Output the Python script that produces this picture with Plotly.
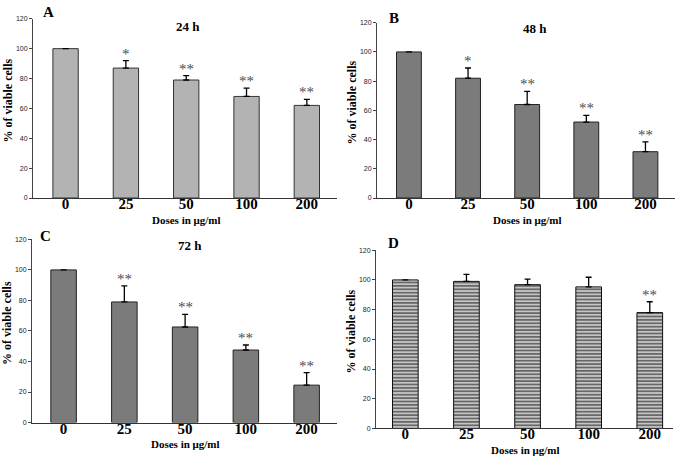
import plotly.graph_objects as go

doses = ["0", "25", "50", "100", "200"]

viab_24h = [100, 87, 79, 68, 62]
err_24h = [None, 5, 3, 5.5, 4]
sig_24h = ["", "*", "**", "**", "**"]

viab_48h = [100, 82, 64, 52, 31.7]
err_48h = [None, 7, 9, 4.5, 6.7]
sig_48h = ["", "*", "**", "**", "**"]

viab_72h = [100, 79, 62.6, 47.5, 24.5]
err_72h = [None, 10.5, 8.2, 3.3, 8.2]
sig_72h = ["", "**", "**", "**", "**"]

viab_d = [100, 99, 96.8, 95.3, 78]
err_d = [None, 4.7, 3.7, 6.5, 7.3]
sig_d = ["", "", "", "", "**"]

yticks = [0, 20, 40, 60, 80, 100, 120]

W, H = 685, 460
panels = [
    dict(v=viab_24h, e=err_24h, s=sig_24h, title="24 h", letter="A",
         xd=(33, 337), yd=(197, 15), xr=[-0.54, 4.5], style="light",
         tpos=(188, 23), lpos=(49, 8)),
    dict(v=viab_48h, e=err_48h, s=sig_48h, title="48 h", letter="B",
         xd=(377, 675), yd=(197, 19), xr=[-0.54, 4.5], style="dark",
         tpos=(535, 25), lpos=(394, 14)),
    dict(v=viab_72h, e=err_72h, s=sig_72h, title="72 h", letter="C",
         xd=(32, 337), yd=(425, 239), xr=[-0.52, 4.5], style="dark",
         tpos=(190, 245), lpos=(45, 236)),
    dict(v=viab_d, e=err_d, s=sig_d, title="", letter="D",
         xd=(376, 673), yd=(431, 250), xr=[-0.48, 4.38], style="stripe",
         tpos=None, lpos=(393, 243)),
]

fig = go.Figure()
serif = "Liberation Serif, Times New Roman, serif"
sans = "Liberation Sans, Arial, sans-serif"
annotations = []
layout = {}

for i, p in enumerate(panels):
    n = "" if i == 0 else str(i + 1)
    xa, ya = "x" + n, "y" + n
    if p["style"] == "light":
        marker = dict(color="#b3b3b3", line=dict(color="#333333", width=1))
    elif p["style"] == "dark":
        marker = dict(color="#7b7b7b", line=dict(color="#222222", width=1))
    else:
        marker = dict(color="#d2d2d2", line=dict(color="#111111", width=1),
                      pattern=dict(shape="-", fgcolor="#000000", bgcolor="#d0d0d0",
                                   size=3.4, solidity=0.55, fillmode="overlay"))
    idx = list(range(len(doses)))
    fig.add_trace(go.Bar(
        x=idx, y=p["v"], xaxis=xa, yaxis=ya, width=0.42, marker=marker,
        showlegend=False, hoverinfo="skip",
        error_y=dict(type="data", symmetric=False, array=p["e"],
                     arrayminus=[0] * len(doses), color="#000000",
                     thickness=1.3, width=3),
    ))
    x0, x1 = p["xd"]
    yb, yt = p["yd"]
    layout["xaxis" + n] = dict(
        domain=[x0 / W, x1 / W], anchor=ya, range=p["xr"],
        tickvals=idx, ticktext=doses,
        showline=True, linecolor="#333333", linewidth=1, ticks="",
        ticklabelstandoff=-8,
        tickfont=dict(family=serif, size=15, color="#000000", weight="bold"),
        showgrid=False, zeroline=False, fixedrange=True,
    )
    layout["yaxis" + n] = dict(
        domain=[(H - yb) / H, (H - yt) / H], anchor=xa, range=[0, 120],
        tickvals=yticks, showline=True, linecolor="#444444", linewidth=1,
        ticks="outside", ticklen=3, tickcolor="#444444",
        tickfont=dict(family=sans, size=7, color="#222222"),
        showgrid=False, zeroline=False, fixedrange=True,
    )
    annotations.append(dict(
        text="<b>Doses in μg/ml</b>", xref="paper", yref="paper",
        x=((x0 + x1) / 2 + 1) / W, y=(H - yb - 22) / H, showarrow=False,
        xanchor="center", yanchor="middle",
        font=dict(family=serif, size=11, color="#000000"),
    ))
    annotations.append(dict(
        text="<b>% of viable cells</b>", xref="paper", yref="paper",
        x=(x0 - 25) / W, y=(H - (yb + yt) / 2 + 8) / H, showarrow=False,
        textangle=-90, xanchor="center", yanchor="middle",
        font=dict(family=serif, size=12, color="#000000"),
    ))
    if p["title"]:
        annotations.append(dict(
            text="<b>" + p["title"] + "</b>", xref="paper", yref="paper",
            x=p["tpos"][0] / W, y=(H - p["tpos"][1]) / H, showarrow=False,
            xanchor="center", yanchor="middle",
            font=dict(family=serif, size=13, color="#000000"),
        ))
    annotations.append(dict(
        text="<b>" + p["letter"] + "</b>", xref="paper", yref="paper",
        x=p["lpos"][0] / W, y=(H - p["lpos"][1]) / H, showarrow=False,
        xanchor="center", yanchor="middle",
        font=dict(family=serif, size=15, color="#000000"),
    ))
    for j, (v, e, s) in enumerate(zip(p["v"], p["e"], p["s"])):
        if s:
            annotations.append(dict(
                text=s, xref=xa, yref=ya, x=j, y=v + (e or 0),
                showarrow=False, xanchor="center", yanchor="bottom", yshift=-3,
                font=dict(family=serif, size=15, color="#4d4d4d"),
            ))

fig.update_layout(
    width=W, height=H, margin=dict(l=0, r=0, t=0, b=0),
    paper_bgcolor="white", plot_bgcolor="white",
    annotations=annotations, **layout,
)
fig.write_html("out.html", config={"displayModeBar": False, "staticPlot": True},
               post_script="document.body.style.margin='0px';document.body.style.overflow='hidden';")
